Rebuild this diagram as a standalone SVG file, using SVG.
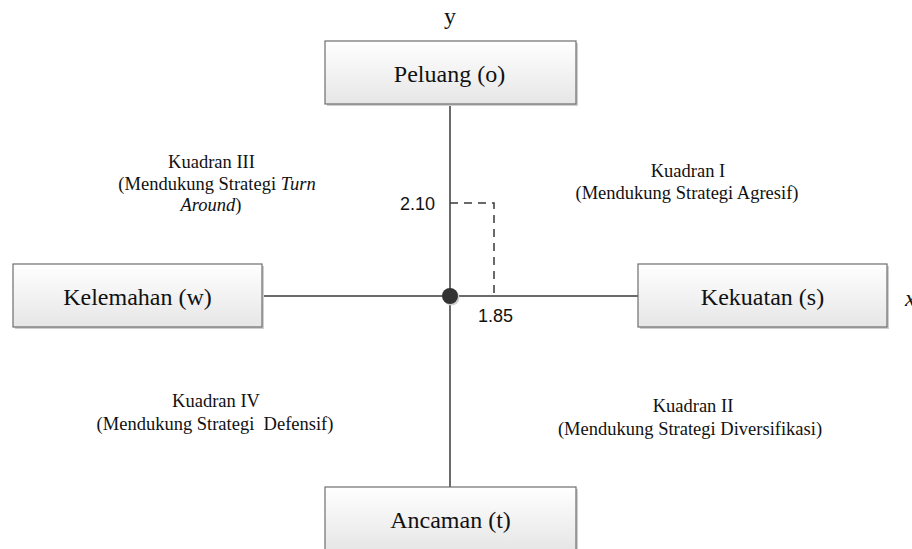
<svg xmlns="http://www.w3.org/2000/svg" width="912" height="549" viewBox="0 0 912 549">
<defs>
<linearGradient id="g" x1="0" y1="0" x2="0" y2="1">
<stop offset="0" stop-color="#ffffff"/>
<stop offset="1" stop-color="#e6e6e6"/>
</linearGradient>
</defs>
<style>
.box{fill:url(#g);stroke:#6e6e6e;stroke-width:1.2}
.sh{fill:#cfcfcf}
.bt{font-family:"Liberation Serif",serif;font-size:24px;fill:#111;text-anchor:middle}
.qt{font-family:"Liberation Serif",serif;font-size:18.5px;fill:#111;text-anchor:middle}
.nt{font-family:"Liberation Sans",sans-serif;font-size:18px;fill:#111}
.ax{stroke:#3a3a3a;stroke-width:1.5;fill:none}
.ds{stroke:#3a3a3a;stroke-width:1.5;fill:none;stroke-dasharray:8,6}
</style>
<rect width="912" height="549" fill="#fff"/>
<g id="connectors">
<line class="ax" x1="450" y1="104" x2="450" y2="487"/>
<line class="ax" x1="262" y1="296" x2="638" y2="296"/>
<polyline class="ds" points="450,203 494,203 494,296"/>
<circle cx="451.5" cy="297.5" r="8" fill="#d0d0d0"/>
<circle cx="450" cy="296" r="8" fill="#333"/>
</g>
<g id="peluang">
<rect class="sh" x="327" y="43" width="251" height="63"/>
<rect class="box" x="325" y="41" width="251" height="63"/>
<text class="bt" x="449.5" y="82">Peluang (o)</text>
</g>
<g id="kelemahan">
<rect class="sh" x="15" y="266" width="249" height="63"/>
<rect class="box" x="13" y="264" width="249" height="63"/>
<text class="bt" x="137.5" y="305">Kelemahan (w)</text>
</g>
<g id="kekuatan">
<rect class="sh" x="640" y="266" width="249" height="63"/>
<rect class="box" x="638" y="264" width="249" height="63"/>
<text class="bt" x="762.5" y="305">Kekuatan (s)</text>
</g>
<g id="ancaman">
<rect class="sh" x="327" y="489" width="251" height="63"/>
<rect class="box" x="325" y="487" width="251" height="63"/>
<text class="bt" x="450.5" y="528">Ancaman (t)</text>
</g>
<g id="labels">
<text class="bt" x="450" y="24">y</text>
<text class="bt" x="905" y="306" style="text-anchor:start;font-style:italic">x</text>
<text class="nt" x="400" y="210">2.10</text>
<text class="nt" x="478" y="322">1.85</text>
<text class="qt" x="211.5" y="168">Kuadran III</text>
<text class="qt" x="217" y="190">(Mendukung Strategi <tspan font-style="italic">Turn</tspan></text>
<text class="qt" x="211" y="211"><tspan font-style="italic">Around</tspan>)</text>
<text class="qt" x="688" y="177">Kuadran I</text>
<text class="qt" x="687" y="199">(Mendukung Strategi Agresif)</text>
<text class="qt" x="216" y="407">Kuadran IV</text>
<text class="qt" x="215" y="430" xml:space="preserve">(Mendukung Strategi  Defensif)</text>
<text class="qt" x="693" y="412">Kuadran II</text>
<text class="qt" x="690" y="435">(Mendukung Strategi Diversifikasi)</text>
</g>
</svg>
